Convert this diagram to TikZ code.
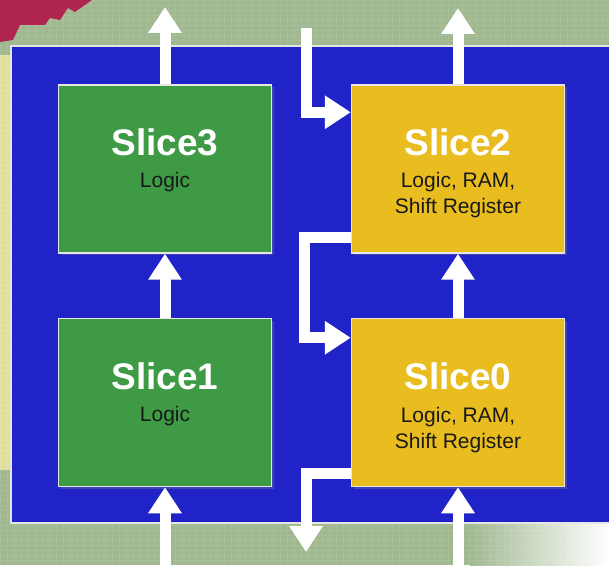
\documentclass[tikz,border=0pt]{standalone}
\usepackage{fontspec}
\setmainfont{Liberation Sans}
\usetikzlibrary{arrows.meta, shadows}

\definecolor{boardblue}{RGB}{32,36,200}
\definecolor{slicegreen}{RGB}{62,154,68}
\definecolor{sliceyellow}{RGB}{233,189,31}
\definecolor{bgsage}{RGB}{160,184,144}
\definecolor{bgred}{RGB}{176,38,80}
\definecolor{bgstrip}{RGB}{224,224,158}

\tikzset{
  slicebox/.style={draw=gray!20, line width=1.5pt, minimum width=213pt, minimum height=168pt,
    inner sep=0pt, drop shadow={opacity=0.35, shadow xshift=2pt, shadow yshift=-2pt}},
  logicbox/.style={slicebox, fill=slicegreen},
  rambox/.style={slicebox, fill=sliceyellow},
  slicename/.style={font=\bfseries\fontsize{37}{37}\selectfont, text=white, inner sep=0pt},
  slicefunc/.style={font=\fontsize{21}{26}\selectfont, text=black!90, align=center,
    inner sep=0pt, anchor=north},
  flow/.style={draw=white, line width=11pt, -{Triangle[width=32pt,length=26pt]}},
}

\begin{document}
\begin{tikzpicture}[x=1pt, y=1pt]

  \path[use as bounding box, clip] (0,0) rectangle (609,565);

  % --- background ---
  \fill[bgsage] (0,0) rectangle (609,565);
  \fill[bgstrip] (0,95) rectangle (12,510);
  \shade[left color=bgsage, right color=white] (470,0) rectangle (609,42);
  \draw[white, opacity=0.1, line width=0.6pt] (0,0) grid[xstep=7, ystep=5] (609,565);
  \fill[bgred] (0,565) -- (92,565) -- (75,553) -- (68,557) -- (60,545) -- (50,547)
    -- (45,540) -- (20,540) -- (13,525) -- (0,523) -- cycle;

  % --- blue board ---
  \draw[draw=gray!20, line width=1.5pt, fill=boardblue] (11,42) rectangle (625,519);

  % --- slice boxes ---
  \node[logicbox] (s3) at (165,396) {};
  \node[rambox]   (s2) at (458,396) {};
  \node[logicbox] (s1) at (165,162.5) {};
  \node[rambox]   (s0) at (458,162.5) {};

  % --- slice texts ---
  \node[slicename] (s3n) at ([yshift=-58pt]s3.north) {Slice3};
  \node[slicefunc] (s3f) at ([yshift=-88pt]s3.north) {Logic};
  \node[slicename] (s2n) at ([yshift=-58pt]s2.north) {Slice2};
  \node[slicefunc] (s2f) at ([yshift=-88pt]s2.north) {Logic, RAM,\\Shift Register};
  \node[slicename] (s1n) at ([yshift=-59pt]s1.north) {Slice1};
  \node[slicefunc] (s1f) at ([yshift=-88pt]s1.north) {Logic};
  \node[slicename] (s0n) at ([yshift=-59pt]s0.north) {Slice0};
  \node[slicefunc] (s0f) at ([yshift=-89pt]s0.north) {Logic, RAM,\\Shift Register};

  % --- free ends ---
  \coordinate (top3) at (165,558);
  \coordinate (top2) at (458,557);
  \coordinate (bot1) at (165,-5);
  \coordinate (bot0) at (458,-5);
  \coordinate (cin)  at (306,537);
  \coordinate (cout) at (306,13);

  % --- vertical flows ---
  \draw[flow] (bot1) -- (s1.south);
  \draw[flow] (s1.north) -- (s3.south);
  \draw[flow] (s3.north) -- (top3);
  \draw[flow] (bot0) -- (s0.south);
  \draw[flow] (s0.north) -- (s2.south);
  \draw[flow] (s2.north) -- (top2);

  % --- carry chain ---
  \draw[flow] (cin) |- ([yshift=-28pt]s2.north west);
  \draw[flow] ([yshift=16pt]s2.south west) -- ++(-46,0) |- ([yshift=-20pt]s0.north west);
  \draw[flow] ([yshift=14pt]s0.south west) -| (cout);

\end{tikzpicture}
\end{document}
